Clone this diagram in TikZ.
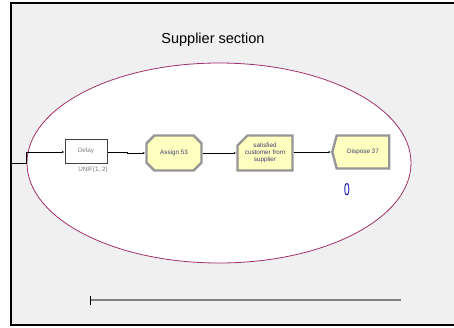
\documentclass[tikz,border=0pt]{standalone}
\usepackage{fontspec}
\setmainfont{Liberation Sans}
\usetikzlibrary{arrows.meta,shapes.misc,shapes.symbols}

\definecolor{panel}{RGB}{240,240,240}
\definecolor{rim}{RGB}{160,48,106}
\definecolor{module}{RGB}{255,255,192}
\definecolor{bevel}{RGB}{150,150,150}
\definecolor{label}{RGB}{60,60,110}

\tikzset{
  modbox/.style={fill=module,draw=bevel,line width=2.4pt,text=label,
    font=\fontsize{6.3}{7}\selectfont,align=center,inner sep=1pt},
  flow/.style={draw=black,line width=0.6pt,-{Latex[length=2.5pt,width=2pt]}},
}

\begin{document}
\begin{tikzpicture}[x=1pt,y=-1pt]
\useasboundingbox (0,0) rectangle (454,327);

% PANEL
\fill[panel] (11,3) rectangle (470,325);
\draw[line width=2pt] (470,3) -- (11,3) -- (11,325) -- (470,325);
\node[font=\fontsize{14.5}{16}\selectfont] (title) at (213,40) {Supplier section};

% SECTION
\draw[rim,fill=white,line width=0.8pt] (219,163) ellipse [x radius=192, y radius=100];

% MODULES
\node[fill=white,draw=black!75,line width=1pt,minimum width=42pt,minimum height=24pt,
  text=black!50,font=\fontsize{6.3}{7}\selectfont] (delay) at (86,151) {Delay};
\node[text=black!55,font=\fontsize{6.3}{7}\selectfont] (unif) at (93,170) {UNIF(1, 2)};
\node[modbox,chamfered rectangle,chamfered rectangle xsep=4pt,chamfered rectangle ysep=4pt,
  minimum width=55pt,minimum height=35pt] (assign) at (174,153) {Assign 53};
\node[modbox,chamfered rectangle,chamfered rectangle corners=north west,
  chamfered rectangle xsep=5pt,chamfered rectangle ysep=5pt,
  minimum width=55pt,minimum height=35pt] (satisfied) at (265,153)
  {satisfied\\customer from\\supplier};
\node[modbox,signal,signal to=west,signal pointer angle=150,
  minimum width=57pt,minimum height=33pt] (dispose) at (363,152) {Dispose 37};
\node[text=blue!70!black,font=\fontsize{17}{18}\selectfont] (count) at (347,190)
  {\scalebox{0.6}[1]{0}};

% CONNECTORS
\coordinate (entry) at (11,163);
\draw[flow] (entry) -- (26,163) -- (26,152) -- (delay.west |- 0,152);
\draw[flow] (delay.east |- 0,152) -- (127,152) -- (127,153) -- (assign.west);
\draw[flow] (assign.east) -- (satisfied.west);
\draw[flow] (satisfied.east |- 0,152) -- (dispose.west |- 0,152);

% SCALE
\coordinate (scaleA) at (90,300);
\coordinate (scaleB) at (401,300);
\draw[black!50,line width=1.4pt] (scaleA) -- (scaleB);
\draw[line width=0.8pt] (90,295.5) -- (90,305);
\end{tikzpicture}
\end{document}
